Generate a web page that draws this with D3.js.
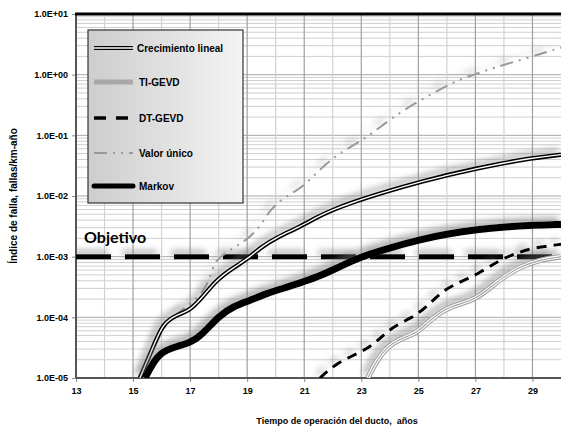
<!DOCTYPE html>
<html>
<head>
<meta charset="utf-8">
<script src="https://cdn.jsdelivr.net/npm/d3@7"></script>
<style>
  body { margin: 0; background: #fff; }
  text { font-family: "Liberation Sans", Arial, sans-serif; font-weight: bold; }
</style>
</head>
<body>
<script>
// years and failure-rate values
const crecYears = [15.24, 15.7, 16.05, 16.54, 17.0, 17.45, 17.94, 18.5, 19.1, 19.45, 20.05, 20.85, 21.45, 22.0, 22.6, 23.66, 25.0, 27.06, 29.05, 30.0];
const crecVals  = [1e-5, 3.2e-5, 8.1e-5, 1.1e-4, 1.3e-4, 2.2e-4, 4.2e-4, 6.5e-4, 9.8e-4, 1.4e-3, 2.1e-3, 3.1e-3, 4.5e-3, 5.9e-3, 7.6e-3, 1.1e-2, 1.7e-2, 2.9e-2, 4.3e-2, 4.8e-2];

const tiYears = [23.23, 23.55, 23.9, 24.25, 24.95, 25.3, 25.76, 26.11, 26.92, 27.41, 27.97, 28.56, 29.26, 30.0];
const tiVals  = [1e-5, 2.0e-5, 3.2e-5, 4.2e-5, 5.5e-5, 8.1e-5, 1.2e-4, 1.5e-4, 1.9e-4, 2.8e-4, 4.6e-4, 6.8e-4, 8.9e-4, 1.0e-3];

const dtYears = [21.55, 22.15, 22.95, 23.55, 24.0, 24.81, 25.3, 25.86, 26.46, 27.16, 27.86, 28.46, 29.02, 30.0];
const dtVals  = [1e-5, 1.8e-5, 2.6e-5, 3.9e-5, 6.6e-5, 1.0e-4, 1.5e-4, 2.8e-4, 3.8e-4, 5.4e-4, 8.9e-4, 1.15e-3, 1.4e-3, 1.6e-3];

const valorYears = [15.35, 15.8, 16.3, 17.0, 17.5, 17.7, 17.87, 18.05, 18.5, 19.0, 19.45, 19.8, 20.26, 20.85, 21.31, 21.8, 22.25, 22.85, 23.41, 24.11, 25.06, 26.35, 26.92, 27.62, 28.81, 30.0];
const valorVals  = [1e-5, 4e-5, 1.0e-4, 1.6e-4, 2.8e-4, 4.6e-4, 8.2e-4, 9.8e-4, 1.4e-3, 1.9e-3, 3.1e-3, 5.9e-3, 9.3e-3, 1.3e-2, 2.1e-2, 3.5e-2, 5.1e-2, 7.4e-2, 0.11, 0.2, 0.38, 0.81, 0.99, 1.29, 1.88, 2.8];

const markovYears = [15.42, 15.84, 16.29, 17.0, 17.35, 18.05, 18.5, 19.1, 19.69, 20.26, 20.85, 21.45, 22.15, 22.92, 24.0, 25.02, 26.04, 27.06, 28.04, 29.05, 30.0];
const markovVals  = [1e-5, 2.4e-5, 3.1e-5, 3.8e-5, 4.8e-5, 1.1e-4, 1.5e-4, 1.9e-4, 2.5e-4, 3.0e-4, 3.7e-4, 4.6e-4, 6.5e-4, 9.8e-4, 1.4e-3, 1.9e-3, 2.4e-3, 2.8e-3, 3.1e-3, 3.3e-3, 3.4e-3];

const objetivo = 1e-3;
const xTicks = [13, 15, 17, 19, 21, 23, 25, 27, 29];
const yTicks = [1e-5, 1e-4, 1e-3, 1e-2, 1e-1, 1, 10];
const yTickLabels = ["1.0E-05", "1.0E-04", "1.0E-03", "1.0E-02", "1.0E-01", "1.0E+00", "1.0E+01"];
const legendNames = ["Crecimiento lineal", "TI-GEVD", "DT-GEVD", "Valor único", "Markov"];

const w = 561, h = 434;
const pLeft = 76, pRight = 561, pTop = 14, pBottom = 378;

const svg = d3.select('body').append('svg')
  .attr('width', w).attr('height', h);

const defs = svg.append('defs');
const shadow = defs.append('filter').attr('id', 'shadow')
  .attr('filterUnits', 'userSpaceOnUse')
  .attr('x', 0).attr('y', 0).attr('width', w).attr('height', h);
shadow.append('feDropShadow')
  .attr('dx', -3).attr('dy', -4).attr('stdDeviation', 3)
  .attr('flood-color', '#777').attr('flood-opacity', 0.6);

const grad = defs.append('linearGradient').attr('id', 'legfill')
  .attr('x1', '0%').attr('x2', '100%').attr('y1', '0%').attr('y2', '0%');
grad.append('stop').attr('offset', '0%').attr('stop-color', '#cdcdcd');
grad.append('stop').attr('offset', '100%').attr('stop-color', '#f4f4f4');

defs.append('clipPath').attr('id', 'plotclip')
  .append('rect').attr('x', pLeft).attr('y', pTop).attr('width', pRight - pLeft).attr('height', pBottom - pTop);

const x = d3.scaleLinear().domain([13, 30]).range([pLeft, pRight]);
const y = d3.scaleLog().domain([1e-5, 10]).range([pBottom, pTop]);

// grid
const grid = svg.append('g');
const minorY = [];
for (let e = -5; e < 1; e++) for (let m = 2; m < 10; m++) minorY.push(m * Math.pow(10, e));
grid.selectAll('.hminor').data(minorY).enter().append('line')
  .attr('x1', pLeft).attr('x2', pRight)
  .attr('y1', d => y(d)).attr('y2', d => y(d))
  .attr('stroke', '#cfcfcf').attr('stroke-width', 1);
grid.selectAll('.hmajor').data(yTicks).enter().append('line')
  .attr('x1', pLeft).attr('x2', pRight)
  .attr('y1', d => y(d)).attr('y2', d => y(d))
  .attr('stroke', '#a8a8a8').attr('stroke-width', 1);
grid.selectAll('.vgrid').data(d3.range(14, 30)).enter().append('line')
  .attr('x1', d => x(d)).attr('x2', d => x(d))
  .attr('y1', pTop).attr('y2', pBottom)
  .attr('stroke', d => d % 2 ? '#a0a0a0' : '#d2d2d2').attr('stroke-width', 1.2);

// axes
const xAxis = d3.axisBottom(x).tickValues(xTicks).tickSize(4).tickFormat(d3.format('d'));
const gx = svg.append('g').attr('transform', 'translate(0,' + pBottom + ')').call(xAxis);
gx.select('.domain').remove();
gx.selectAll('.tick line').attr('stroke', '#888');
gx.selectAll('.tick text').attr('font-size', 9).attr('dy', '1.05em').attr('fill', '#000')
  .style('font-family', '"Liberation Sans", Arial, sans-serif');

const yAxis = d3.axisLeft(y).tickValues(yTicks).tickSize(4).tickFormat((d, i) => yTickLabels[i]);
const gy = svg.append('g').attr('transform', 'translate(' + pLeft + ',0)').call(yAxis);
gy.select('.domain').remove();
gy.selectAll('.tick line').attr('stroke', '#888');
gy.selectAll('.tick text').attr('font-size', 9).attr('x', -8).attr('fill', '#000')
  .style('font-family', '"Liberation Sans", Arial, sans-serif');

svg.append('line').attr('x1', pLeft).attr('x2', pLeft).attr('y1', pTop).attr('y2', pBottom)
  .attr('stroke', '#555').attr('stroke-width', 2);
svg.append('line').attr('x1', pLeft).attr('x2', pRight).attr('y1', pBottom).attr('y2', pBottom)
  .attr('stroke', '#555').attr('stroke-width', 2);
svg.append('line').attr('x1', pLeft - 1).attr('x2', pRight).attr('y1', pTop).attr('y2', pTop)
  .attr('stroke', '#000').attr('stroke-width', 3);

// objective line
const plot = svg.append('g').attr('clip-path', 'url(#plotclip)');
plot.append('line')
  .attr('x1', x(13)).attr('x2', x(30))
  .attr('y1', y(objetivo)).attr('y2', y(objetivo))
  .attr('stroke', '#000').attr('stroke-width', 5)
  .attr('stroke-dasharray', '35,14')
  .attr('filter', 'url(#shadow)');
svg.append('text').text('Objetivo')
  .attr('x', 84).attr('y', 243)
  .attr('font-size', 16)
  .style('font-family', 'Lato, "Open Sans", sans-serif');

const line = d3.line().x(d => x(d[0])).y(d => y(d[1])).curve(d3.curveBasis);
const zip = (a, b) => a.map((v, i) => [v, b[i]]);

function drawSeries(data, strokes) {
  const g = plot.append('g').attr('filter', 'url(#shadow)');
  strokes.forEach(s => {
    g.append('path').datum(data).attr('d', line)
      .attr('fill', 'none')
      .attr('stroke', s.c).attr('stroke-width', s.w)
      .attr('stroke-dasharray', s.dash || null)
      .attr('stroke-linejoin', 'round');
  });
}

const styles = [
  [{ c: '#000', w: 4.5 }, { c: '#fff', w: 1.4 }],
  [{ c: '#a0a0a0', w: 5.5 }, { c: '#fff', w: 3.4 }, { c: '#a0a0a0', w: 1.1 }],
  [{ c: '#000', w: 3, dash: '10,7' }],
  [{ c: '#999', w: 2, dash: '13,6,2,6,2,6' }],
  [{ c: '#000', w: 7 }]
];

drawSeries(zip(tiYears, tiVals), styles[1]);
drawSeries(zip(dtYears, dtVals), styles[2]);
drawSeries(zip(valorYears, valorVals), styles[3]);
drawSeries(zip(crecYears, crecVals), styles[0]);
drawSeries(zip(markovYears, markovVals), styles[4]);

// legend
const lg = svg.append('g');
lg.append('rect').attr('x', 88).attr('y', 30).attr('width', 155).attr('height', 173)
  .attr('fill', 'url(#legfill)').attr('stroke', '#333').attr('stroke-width', 1.2);
const legendY = [48, 82, 118, 153, 186];
const legendSample = [
  [{ c: '#000', w: 4 }, { c: '#fff', w: 1.3 }],
  [{ c: '#a8a8a8', w: 5 }],
  [{ c: '#000', w: 3.5, dash: '12,10' }],
  [{ c: '#999', w: 2, dash: '13,6,2,6,2,6' }],
  [{ c: '#000', w: 5 }]
];
legendNames.forEach((name, i) => {
  legendSample[i].forEach(s => {
    lg.append('line').attr('x1', 94).attr('x2', 133)
      .attr('y1', legendY[i]).attr('y2', legendY[i])
      .attr('stroke', s.c).attr('stroke-width', s.w)
      .attr('stroke-dasharray', s.dash || null)
      .attr('stroke-linecap', i === 4 ? 'round' : 'butt');
  });
  lg.append('text').text(name)
    .attr('x', i === 0 ? 137 : 139).attr('y', legendY[i] + 3.5)
    .attr('font-size', 10);
});

// axis titles
svg.append('text').text('Tiempo de operación del ducto,  años')
  .style('white-space', 'pre')
  .attr('x', 337).attr('y', 424).attr('text-anchor', 'middle').attr('font-size', 9);
svg.append('text').text('Índice de falla, fallas/km-año')
  .attr('transform', 'translate(17,196) rotate(-90)')
  .attr('text-anchor', 'middle').attr('font-size', 10);
</script>
</body>
</html>
